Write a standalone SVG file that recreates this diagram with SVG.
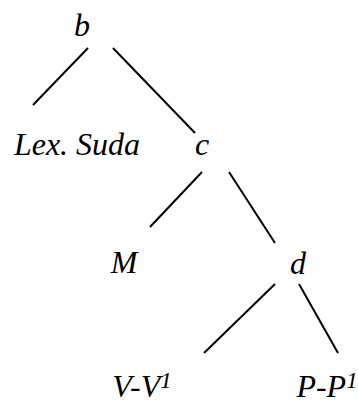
<svg xmlns="http://www.w3.org/2000/svg" width="358" height="405" viewBox="0 0 358 405">
<style>
.lbl{font-family:"Liberation Serif","DejaVu Serif",serif;font-style:italic;font-size:32px;fill:#000;text-anchor:middle}
.sup{font-size:23px}
.edge{stroke:#000;stroke-width:2;fill:none}
</style>
<rect width="358" height="405" fill="#fff"/>
<g id="connectors">
<line class="edge" x1="88" y1="48" x2="33" y2="105"/>
<line class="edge" x1="113" y1="48" x2="195" y2="133"/>
<line class="edge" x1="202" y1="172" x2="150" y2="227"/>
<line class="edge" x1="229" y1="172" x2="275" y2="243"/>
<line class="edge" x1="275" y1="284" x2="204" y2="353"/>
<line class="edge" x1="299" y1="284" x2="338" y2="353"/>
</g>
<g id="node-b"><text class="lbl" x="82" y="36">b</text></g>
<g id="node-lex"><text class="lbl" x="77" y="155">Lex. Suda</text></g>
<g id="node-c"><text class="lbl" x="202" y="155">c</text></g>
<g id="node-M"><text class="lbl" x="124" y="273">M</text></g>
<g id="node-d"><text class="lbl" x="298" y="274">d</text></g>
<g id="node-VV1"><text class="lbl" x="142" y="397">V-V<tspan class="sup" dy="-9">1</tspan></text></g>
<g id="node-PP1"><text class="lbl" x="327" y="397">P-P<tspan class="sup" dy="-9">1</tspan></text></g>
</svg>
